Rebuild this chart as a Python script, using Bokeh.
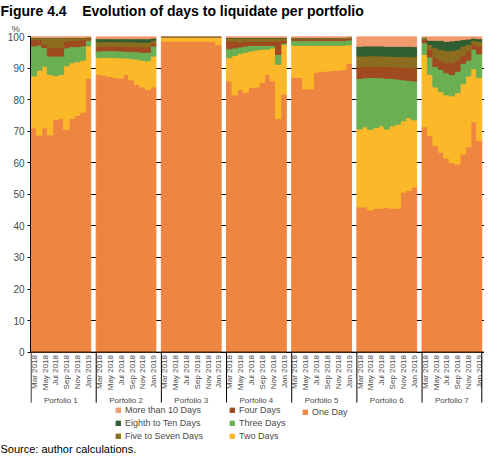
from math import pi
from bokeh.plotting import figure
from bokeh.models import (ColumnDataSource, Range1d, FixedTicker, Legend,
                          LegendItem, Title, Span)
from bokeh.core.properties import value
from bokeh.embed import file_html
from bokeh.resources import INLINE

# ---------------- data (shares in %, 11 months per portfolio: Mar 2018 .. Jan 2019) -----------
portfolios = ["Porfolio 1", "Porfolio 2", "Porfolio 3", "Porfolio 4",
              "Porfolio 5", "Porfolio 6", "Porfolio 7"]
months = ["Mar 2018", "Apr 2018", "May 2018", "Jun 2018", "Jul 2018", "Aug 2018",
          "Sep 2018", "Oct 2018", "Nov 2018", "Dec 2018", "Jan 2019"]
month_ticks = ["Mar 2018", "May 2018", "Jul 2018", "Sep 2018", "Nov 2018", "Jan 2019"]

series_names = ["One Day", "Two Days", "Three Days", "Four Days",
                "Five to Seven Days", "Eighth to Ten Days", "More than 10 Days"]
series_colors = ["#EE8540", "#FBB829", "#6AAF52", "#A04A1F",
                 "#8C6C1E", "#2F5E32", "#F09A6E"]

one_day = [
    [71.0, 68.7, 71.0, 68.8, 73.7, 74.0, 70.6, 74.0, 75.0, 76.0, 86.7],
    [88.0, 87.7, 87.3, 87.0, 86.8, 88.0, 86.3, 84.8, 84.0, 83.2, 84.0],
    [98.5, 98.5, 98.5, 98.5, 98.5, 98.5, 98.5, 98.5, 98.5, 98.5, 97.4],
    [85.9, 81.5, 83.3, 82.3, 83.8, 84.0, 85.4, 88.0, 85.9, 74.0, 81.7],
    [87.0, 87.0, 83.4, 83.4, 88.7, 89.0, 89.0, 89.2, 89.3, 89.5, 91.5],
    [46.0, 46.0, 45.0, 45.6, 45.6, 45.9, 45.6, 45.6, 50.7, 51.2, 52.3],
    [71.4, 68.6, 65.4, 63.3, 61.5, 60.1, 59.6, 62.8, 65.0, 73.0, 67.0],
]
two_days = [
    [16.5, 20.6, 19.6, 19.2, 13.9, 14.0, 20.1, 17.7, 17.0, 16.5, 10.3],
    [5.3, 5.7, 6.1, 6.3, 6.4, 5.2, 6.7, 8.0, 8.5, 9.1, 9.8],
    [1.4, 1.4, 1.4, 1.4, 1.4, 1.4, 1.4, 1.4, 1.4, 1.4, 2.5],
    [7.4, 12.5, 11.3, 12.7, 11.6, 11.7, 10.5, 8.0, 10.5, 17.2, 15.8],
    [10.2, 10.2, 13.8, 13.8, 8.5, 8.2, 8.2, 8.0, 7.9, 7.7, 5.9],
    [24.7, 25.4, 25.6, 25.6, 26.1, 24.8, 26.1, 26.6, 22.6, 23.1, 21.3],
    [22.9, 19.4, 18.6, 19.2, 20.0, 21.1, 22.6, 22.2, 22.5, 16.8, 20.0],
]
three_days = [
    [9.5, 8.0, 5.9, 5.8, 6.2, 5.8, 5.7, 5.1, 4.8, 4.5, 1.8],
    [2.1, 2.1, 2.1, 2.2, 2.2, 2.1, 2.2, 2.4, 2.5, 2.7, 3.2],
    [0.0, 0.0, 0.0, 0.0, 0.0, 0.0, 0.0, 0.0, 0.0, 0.0, 0.0],
    [2.8, 2.4, 2.1, 2.0, 1.8, 1.5, 1.3, 1.2, 0.8, 3.1, 0.4],
    [1.5, 1.5, 1.5, 1.5, 1.5, 1.5, 1.5, 1.5, 1.5, 1.5, 1.5],
    [16.0, 15.5, 16.4, 15.8, 15.2, 16.1, 15.0, 14.3, 13.0, 11.8, 12.3],
    [3.7, 5.5, 6.5, 7.1, 7.0, 6.8, 6.8, 6.5, 5.0, 6.2, 7.5],
]
four_days = [
    [2.0, 1.7, 1.0, 2.6, 2.6, 2.6, 2.1, 2.0, 2.0, 2.0, 0.6],
    [1.4, 1.4, 1.4, 1.4, 1.4, 1.5, 1.6, 1.5, 1.7, 1.7, 0.8],
    [0.0, 0.0, 0.0, 0.0, 0.0, 0.0, 0.0, 0.0, 0.0, 0.0, 0.0],
    [2.5, 2.0, 1.6, 1.4, 1.2, 1.2, 1.2, 1.2, 1.2, 4.2, 0.9],
    [0.5, 0.5, 0.5, 0.5, 0.5, 0.5, 0.5, 0.5, 0.5, 0.5, 0.5],
    [3.7, 3.6, 3.6, 3.6, 3.6, 3.6, 3.7, 3.8, 3.9, 4.0, 4.1],
    [1.0, 2.5, 2.8, 2.9, 3.2, 3.7, 3.5, 2.5, 3.0, 1.5, 2.5],
]
five_to_seven = [
    [0.6, 0.6, 2.0, 3.1, 3.1, 3.1, 1.1, 0.8, 0.8, 0.6, 0.3],
    [1.5, 1.5, 1.5, 1.5, 1.5, 1.5, 1.5, 1.5, 1.5, 1.5, 1.0],
    [0.0, 0.0, 0.0, 0.0, 0.0, 0.0, 0.0, 0.0, 0.0, 0.0, 0.0],
    [0.9, 1.1, 1.2, 1.1, 1.1, 1.1, 1.1, 1.1, 1.1, 1.0, 0.7],
    [0.3, 0.3, 0.3, 0.3, 0.3, 0.3, 0.3, 0.3, 0.3, 0.3, 0.3],
    [3.4, 3.3, 3.3, 3.3, 3.3, 3.4, 3.3, 3.4, 3.5, 3.5, 3.6],
    [0.4, 1.5, 3.1, 3.3, 3.8, 3.8, 3.5, 3.0, 2.0, 1.3, 1.5],
]
eighth_to_ten = [
    [0.1, 0.1, 0.1, 0.1, 0.1, 0.1, 0.1, 0.1, 0.1, 0.1, 0.1],
    [1.0, 0.9, 0.9, 0.9, 1.0, 1.0, 1.0, 1.1, 1.1, 1.1, 0.7],
    [0.0, 0.0, 0.0, 0.0, 0.0, 0.0, 0.0, 0.0, 0.0, 0.0, 0.0],
    [0.2, 0.2, 0.2, 0.2, 0.2, 0.2, 0.2, 0.2, 0.2, 0.2, 0.2],
    [0.1, 0.1, 0.1, 0.1, 0.1, 0.1, 0.1, 0.1, 0.1, 0.1, 0.1],
    [3.1, 3.2, 3.1, 3.1, 3.2, 3.1, 3.2, 3.2, 3.2, 3.3, 3.2],
    [0.2, 1.3, 2.4, 3.0, 3.0, 3.1, 2.8, 2.0, 1.7, 0.7, 0.8],
]
more_than_10 = [
    [0.3, 0.3, 0.4, 0.4, 0.4, 0.4, 0.3, 0.3, 0.3, 0.3, 0.2],
    [0.7, 0.7, 0.7, 0.7, 0.7, 0.7, 0.7, 0.7, 0.7, 0.7, 0.5],
    [0.1, 0.1, 0.1, 0.1, 0.1, 0.1, 0.1, 0.1, 0.1, 0.1, 0.1],
    [0.3, 0.3, 0.3, 0.3, 0.3, 0.3, 0.3, 0.3, 0.3, 0.3, 0.3],
    [0.4, 0.4, 0.4, 0.4, 0.4, 0.4, 0.4, 0.4, 0.4, 0.4, 0.4],
    [3.1, 3.0, 3.0, 3.0, 3.0, 3.1, 3.1, 3.1, 3.1, 3.1, 3.2],
    [0.4, 1.2, 1.2, 1.2, 1.5, 1.4, 1.2, 1.0, 0.8, 0.5, 0.7],
]
series_data = [one_day, two_days, three_days, four_days,
               five_to_seven, eighth_to_ten, more_than_10]
y_ticks = [0, 10, 20, 30, 40, 50, 60, 70, 80, 90, 100]

# ---------------- slots: each portfolio gets len(months) bars + one empty slot ----------
n_m = len(months)
pitch = n_m + 1
n_p = len(portfolios)

xs = [k * pitch + j for k in range(n_p) for j in range(n_m)]
keys = ["s%d" % i for i in range(len(series_names))]
data = {"x": xs}
for key, ser in zip(keys, series_data):
    data[key] = [v for panel in ser for v in panel]
source = ColumnDataSource(data)

x_end = (n_p - 1) * pitch + n_m - 0.5

FONT = "Liberation Sans"
GREY = "#4a4a4a"
LEFT = 30

# frame: 100% -> 0% occupies the upper part; area below 0 holds the category labels
Y_MIN = -28.0
p = figure(width=484, height=454, output_backend="svg", toolbar_location=None,
           title=None, x_range=Range1d(-0.6, x_end + 0.5),
           y_range=Range1d(Y_MIN, 100),
           min_border_left=LEFT, min_border_right=0, min_border_top=0,
           min_border_bottom=0, x_axis_location=None)
p.outline_line_color = None
p.background_fill_color = "white"

renderers = p.vbar_stack(keys, x="x", width=1.0, source=source,
                         fill_color=series_colors, line_color=series_colors,
                         line_width=1)

# black grid behind the bars (visible only in the gaps)
p.xgrid.visible = False
p.ygrid.ticker = FixedTicker(ticks=y_ticks)
p.ygrid.grid_line_color = "black"
p.ygrid.grid_line_width = 1
p.ygrid.bounds = (-0.6, x_end)
p.add_layout(Span(location=0, dimension="width", line_color="black", line_width=1))

# y axis
yax = p.yaxis[0]
yax.ticker = FixedTicker(ticks=y_ticks)
yax.bounds = (0, 100)
yax.axis_line_color = "black"
yax.major_tick_line_color = "black"
yax.major_tick_in = 0
yax.major_tick_out = 3
yax.minor_tick_line_color = None
yax.major_label_standoff = 3
yax.major_label_text_font = FONT
yax.major_label_text_font_size = "10px"
yax.major_label_text_color = GREY

# month labels (every second month), vertical, under each bar
lab_x, lab_t = [], []
for k in range(n_p):
    for lab in month_ticks:
        lab_x.append(k * pitch + months.index(lab))
        lab_t.append(lab)
p.text(x=lab_x, y=[0] * len(lab_x), text=lab_t, angle=pi / 2, text_align="right",
       text_baseline="middle", y_offset=3, x_offset=0.5, text_font_size="8px",
       text_font=value(FONT), text_color=GREY)

# separators at each portfolio's left edge and after the last one
sep_x = [k * pitch - 0.5 for k in range(n_p)] + [x_end]
SEP_LEN = 16.0
p.segment(x0=sep_x, y0=[0] * len(sep_x), x1=sep_x, y1=[-SEP_LEN] * len(sep_x),
          line_color="black", line_width=1)

# portfolio names
centers = [k * pitch + (n_m - 1) / 2 for k in range(n_p)]
p.text(x=centers, y=[0] * n_p, text=portfolios, text_align="center",
       text_baseline="middle", y_offset=48, text_font_size="8px",
       text_font=value(FONT), text_color=GREY)

# legend: three columns (column-major order as in the reference)
legend_cols = [[6, 5, 4], [3, 2, 1], [0]]
col_x = [85, 199, 272]
row_step = 12
for col, lx in zip(legend_cols, col_x):
    items = [LegendItem(label=series_names[i], renderers=[renderers[i]]) for i in col]
    ly = -1 + (3 - len(col)) * row_step
    leg = Legend(items=items, orientation="vertical",
                 location=(lx, ly), margin=0, padding=2, spacing=3,
                 glyph_width=6, glyph_height=6, label_height=9, label_standoff=4,
                 label_text_font=FONT, label_text_font_size="9px",
                 label_text_color=GREY, border_line_color=None,
                 background_fill_alpha=0)
    p.add_layout(leg, "center")

# unit label and title above, source below
p.add_layout(Title(text="%", align="left", offset=-19, standoff=5,
                   text_font=FONT, text_font_size="9.5px", text_font_style="normal",
                   text_color=GREY), "above")
p.add_layout(Title(text="Figure 4.4\u00a0\u00a0\u00a0\u00a0Evolution of days to liquidate per portfolio",
                   align="left", offset=-LEFT, standoff=0, text_font=FONT,
                   text_font_size="14px", text_font_style="bold",
                   text_color="black"), "above")
p.add_layout(Title(text="Source: author calculations.", align="left", offset=-LEFT,
                   standoff=0, text_font=FONT, text_font_size="11px",
                   text_font_style="normal", text_color="black"), "below")

open("out.html", "w").write(file_html(p, INLINE))
